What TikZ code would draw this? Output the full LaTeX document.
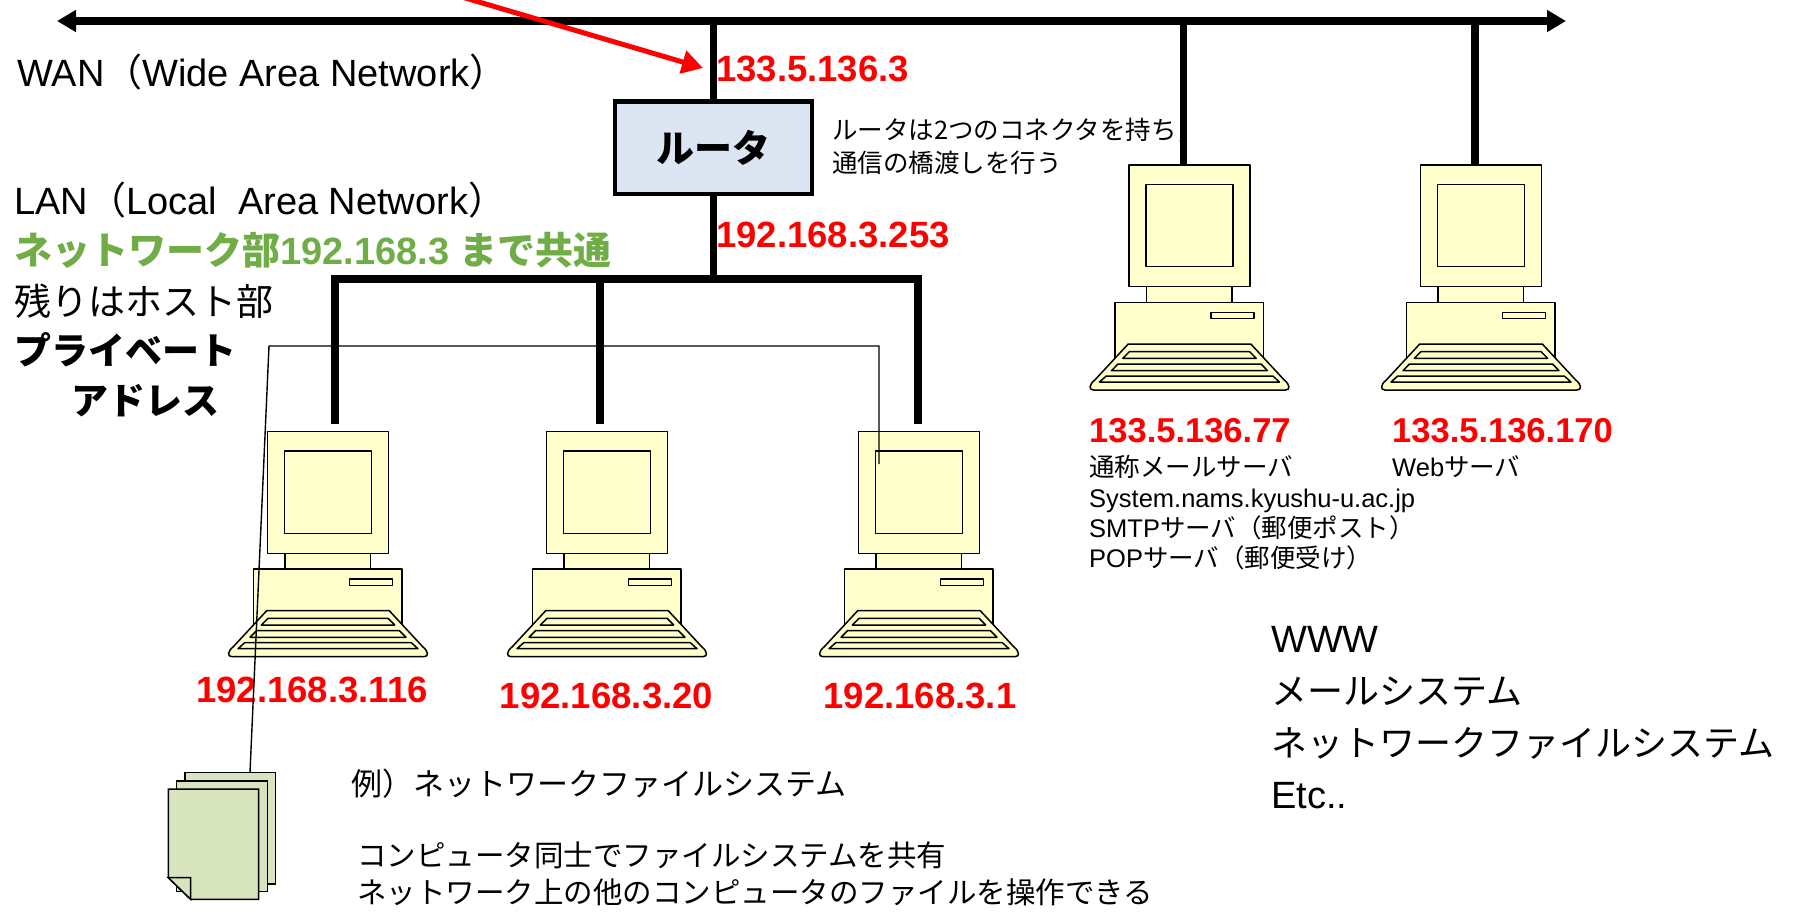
\documentclass[tikz,border=0pt]{standalone}
\usepackage{fontspec}
\setmainfont{Liberation Sans}
\newfontfamily\jp{Noto Sans CJK JP}
\usetikzlibrary{arrows.meta}
\definecolor{pcyellow}{HTML}{FFFFCC}
\definecolor{routerblue}{HTML}{DCE6F2}
\definecolor{pagegreen}{HTML}{D7E4BD}
\definecolor{netgreen}{HTML}{70AD47}
\definecolor{ipred}{HTML}{FF0000}
\newcommand\fsz[1]{\fontsize{#1}{#1}\selectfont}
% one desktop computer, placed by the top centre of its monitor
\newcommand\pcunit[2]{%
  \begin{scope}[shift={(#1,#2)}]
    \draw[pcpart] (-60.3,0) rectangle (60.3,121.6);
    \draw[pcpart] (-43.7,19.3) rectangle (43.3,101.6);
    \draw[pcpart] (-43,121.6) rectangle (42.7,137.3);
    \draw[pcpart] (-74.3,137.3) rectangle (74,200);
    \draw[pcpart] (21.3,147.3) rectangle (64.7,153.6);
    \draw[pcpart] (-61.3,179) -- (61.3,179) -- (94.7,215)
      .. controls (100.5,219.5) and (101,225) .. (96,225) -- (-96,225)
      .. controls (-101,225) and (-100.5,219.5) .. (-94.7,215) -- cycle;
    \draw[pcpart] (-60,186.6) -- (60,186.6) -- (66.7,193.3) -- (-66.7,193.3) -- cycle;
    \draw[pcpart] (-71.5,199) -- (71.5,199) -- (78,205.6) -- (-78,205.6) -- cycle;
    \draw[pcpart] (-83.3,211) -- (83.3,211) -- (90,217) -- (-90,217) -- cycle;
  \end{scope}}
\tikzset{
  bus/.style={line width=7.5pt},
  pcpart/.style={draw=black, line width=1.5pt, fill=pcyellow, line join=round},
  page/.style={draw=black, line width=1.5pt, fill=pagegreen},
  thinlink/.style={draw=black, line width=1.4pt},
  txt/.style={anchor=base west, inner sep=0pt},
  ip/.style={inner sep=0pt, text=ipred, font=\fsz{36.5}\bfseries},
  sip/.style={txt, text=ipred, font=\fsz{34.5}\bfseries},
  desc/.style={txt, font=\fsz{25.5}},
  routerbox/.style={draw=black, line width=4.5pt, fill=routerblue,
    minimum width=197pt, minimum height=92.5pt, inner sep=0pt,
    font=\fsz{38}\jp\bfseries},
  arrowbus/.style={bus, {Triangle[length=19pt,width=21pt]}-{Triangle[length=19pt,width=21pt]}},
}
\begin{document}
\begin{tikzpicture}[x=1pt,y=-1pt]
\useasboundingbox (0,0) rectangle (1798,911);

% ---- texts ----
\node[txt, font=\fsz{38}] (wan) at (17,86) {WAN{\jp （}Wide Area Network{\jp ）}};
\node[txt, font=\fsz{38}] (lan) at (14,214.5) {LAN{\jp （}Local\ \ Area Network{\jp ）}};
\node[txt, font=\fsz{38}\bfseries, text=netgreen] (netpart) at (14,264) {{\jp ネットワーク部}192.168.3 {\jp まで共通}};
\node[txt, font=\fsz{37}\jp] (hostpart) at (14,315) {残りはホスト部};
\node[txt, font=\fsz{37}\jp\bfseries] (priv) at (14,364) {プライベート};
\node[txt, font=\fsz{37}\jp\bfseries] (addr) at (71,414) {アドレス};

\node[txt, font=\fsz{25.5}\jp] (rnote1) at (832,139.5) {ルータは2つのコネクタを持ち，};
\node[txt, font=\fsz{25.5}\jp] (rnote2) at (832,172.5) {通信の橋渡しを行う};

\node[ip, anchor=base west] (ipwan) at (716,81.5) {133.5.136.3};
\node[ip, anchor=base west] (iplan) at (716,247) {192.168.3.253};
\node[ip, anchor=base] (ip1) at (312,702) {192.168.3.116};
\node[ip, anchor=base] (ip2) at (606.5,708) {192.168.3.20};
\node[ip, anchor=base] (ip3) at (920,708) {192.168.3.1};
\node[sip] (ipmail) at (1089,442) {133.5.136.77};
\node[sip] (ipweb) at (1392,442) {133.5.136.170};

\node[desc, font=\fsz{25.5}\jp] (mail1) at (1089,476) {通称メールサーバ};
\node[desc] (mail2) at (1089,507) {System.nams.kyushu-u.ac.jp};
\node[desc] (mail3) at (1089,537) {SMTP{\jp サーバ（郵便ポスト）}};
\node[desc] (mail4) at (1089,567) {POP{\jp サーバ（郵便受け）}};
\node[desc] (web1) at (1392,476) {Web{\jp サーバ}};

\node[txt, font=\fsz{31}\jp] (nfs) at (351,795) {例）ネットワークファイルシステム};
\node[txt, font=\fsz{29.5}\jp] (nfs1) at (357,866) {コンピュータ同士でファイルシステムを共有};
\node[txt, font=\fsz{29.5}\jp] (nfs2) at (357,903) {ネットワーク上の他のコンピュータのファイルを操作できる};

\node[txt, font=\fsz{38}] (svc1) at (1271,652.5) {WWW};
\node[txt, font=\fsz{36}\jp] (svc2) at (1271,704.5) {メールシステム};
\node[txt, font=\fsz{36}\jp] (svc3) at (1271,756.5) {ネットワークファイルシステム};
\node[txt, font=\fsz{38}] (svc4) at (1271,808.5) {Etc..};

% ---- buses and drops ----
\coordinate (wanL) at (57,21);
\coordinate (wanR) at (1566,21);
\coordinate (lan) at (706,279);
\coordinate (d1) at (335,424);
\coordinate (d2) at (600,424);
\coordinate (d3) at (918,424);
\coordinate (s1) at (1183.6,167);
\coordinate (s2) at (1475,167);

\draw[arrowbus] (wanL) -- (wanR);
\draw[bus] (s1 |- wanL) -- (s1);
\draw[bus] (s2 |- wanL) -- (s2);

\node[routerbox] (router) at (713.5,147.5) {ルータ};
\draw[bus] (router.north) -- (router.north |- wanL);
\draw[bus] (router.south) -- (router.south |- lan);
\draw[bus, line join=miter] (d1) -- (d1 |- lan) -- (d3 |- lan) -- (d3);
\draw[bus] (d2 |- lan) -- (d2);

% ---- computers ----
\pcunit{328}{431.7}
\pcunit{607}{431.7}
\pcunit{919}{431.7}
\pcunit{1189.5}{165}
\pcunit{1481}{165}

% ---- shared files ----
\draw[page] (185,772.3) rectangle (275.7,884);
\draw[page] (176.7,781) rectangle (267.3,891.3);
\draw[page] (168.3,789) -- (258.7,789) -- (258.7,899.3) -- (190.7,899.3) -- (168.3,877.7) -- cycle;
\draw[page] (168.3,877.7) -- (190.7,877.7) -- (190.7,899.3) -- cycle;

\coordinate (filetop) at (250,772.3);
\coordinate (pc3screen) at (879,464);
\draw[thinlink] (filetop) -- (269,346) -- (879,346) -- (pc3screen);

% ---- pointer to the router's outside address ----
\coordinate (redstart) at (462,-3);
\coordinate (redtip) at (703,68);
\draw[ipred, line width=5pt, -{Triangle[length=21pt,width=23pt]}] (redstart) -- (redtip);
\end{tikzpicture}
\end{document}
